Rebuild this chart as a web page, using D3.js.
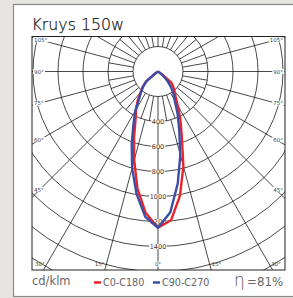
<!DOCTYPE html>
<html><head><meta charset="utf-8">
<script src="https://cdn.jsdelivr.net/npm/d3@7"></script>
<style>
html,body{margin:0;padding:0;background:#e7e5e2;}
svg{display:block;}
</style></head>
<body>
<svg id="c" width="293" height="298"></svg>
<script>
// ---- data ----
const title = "Kruys 150w";
const angles = [0,5,10,15,20,25,30,35,40,45,50,55,60,65,70,75,80,85,90];
const c0   = [1250,1195,1010,785,558,424,318,245,205,173,140,35,0,0,0,0,0,0,0];
const c180 = [1250,1135,950,735,560,425,350,283,216,170,128,30,0,0,0,0,0,0,0];
const c90  = [1250,1130,910,690,497,370,268,214,160,108,55,12,0,0,0,0,0,0,0];
const c270 = [1250,1168,992,800,615,465,362,262,210,165,118,28,0,0,0,0,0,0,0];
const ringValues = [200,400,600,800,1000,1200,1400,1600,1800,2000];
const ringLabels = [400,600,800,1000,1200,1400];
const sideAngleLabels = [105,90,75,60,45];
const bottomAngleLabels = [30,15,0,15,30];
const legend = [{name:"C0-C180", color:"#ea2229"},{name:"C90-C270", color:"#3b4ea3"}];
const unit = "cd/klm";
const efficiency = "=81%";

// ---- layout ----
const svg = d3.select("#c");
const plot = {x0:32, y0:36.5, x1:285, y1:270};
const cx=158, cy=71.5;
const r = d3.scaleLinear().domain([0,2000]).range([0,250]);
const rad = d => d*Math.PI/180;

// panel
svg.append("rect").attr("x",13.5).attr("y",4.5).attr("width",290).attr("height",292)
  .attr("fill","#fff").attr("stroke","#8a8a8a").attr("stroke-width",1.2);

svg.append("text").attr("x",31.5).attr("y",29.5).text(title)
  .attr("font-family","'DejaVu Sans', sans-serif").attr("font-weight",200)
  .attr("font-size",15.8).attr("fill","#1e1e1e").attr("stroke","#1e1e1e").attr("stroke-width",0.25);

const defs = svg.append("defs");
defs.append("clipPath").attr("id","clip").append("rect")
  .attr("x",plot.x0).attr("y",plot.y0).attr("width",plot.x1-plot.x0).attr("height",plot.y1-plot.y0);

const g = svg.append("g").attr("clip-path","url(#clip)");
const grid = g.append("g").attr("stroke","#1a1a1a").attr("stroke-width",0.8).attr("fill","none");

// rings
grid.selectAll("circle.ring").data(ringValues).join("circle")
  .attr("cx",cx).attr("cy",cy).attr("r",d=>r(d));

// spokes: every 10 deg between 200 and 400, every 15 deg beyond 400
const inner = d3.range(0,360,10);
grid.selectAll("line.in").data(inner).join("line")
  .attr("x1",d=>cx+r(200)*Math.sin(rad(d))).attr("y1",d=>cy+r(200)*Math.cos(rad(d)))
  .attr("x2",d=>cx+r(400)*Math.sin(rad(d))).attr("y2",d=>cy+r(400)*Math.cos(rad(d)));
const outer = d3.range(0,360,15);
grid.selectAll("line.out").data(outer).join("line")
  .attr("x1",d=>cx+r(400)*Math.sin(rad(d))).attr("y1",d=>cy+r(400)*Math.cos(rad(d)))
  .attr("x2",d=>cx+r(2400)*Math.sin(rad(d))).attr("y2",d=>cy+r(2400)*Math.cos(rad(d)));

// ring labels on 0 deg axis
const lab = g.append("g").attr("font-family","'DejaVu Sans', sans-serif").attr("font-size",6.5).attr("fill","#333");
ringLabels.forEach(v=>{
  const y = cy + r(v);
  const t = lab.append("text").attr("x",cx).attr("y",y+2.3).attr("text-anchor","middle").text(v);
  const bb = t.node().getBBox();
  lab.insert("rect","text").attr("x",bb.x-0.5).attr("y",y-2.5).attr("width",bb.width+1).attr("height",5).attr("fill","#fff");
});

// side angle labels
const sl = g.append("g").attr("font-family","'DejaVu Sans', sans-serif").attr("font-size",5.5).attr("fill","#444");
sideAngleLabels.forEach(a=>{
  const dx = cx-40;
  const y = cy + dx/Math.tan(rad(a));
  [[34,"start"],[283,"end"]].forEach(([x,anc])=>{
    const t = sl.append("text").attr("x",x).attr("y",y+2).attr("text-anchor",anc).text(a+"°");
    const bb = t.node().getBBox();
    sl.insert("rect","text").attr("x",bb.x-1).attr("y",y-2.5).attr("width",bb.width+2).attr("height",5).attr("fill","#fff");
  });
});
// bottom labels
const by = 264;
bottomAngleLabels.forEach((a,i)=>{
  const sign = i<2?-1:(i>2?1:0);
  const xl = cx + sign*(by-cy)*Math.tan(rad(a));
  let anc="middle", x=xl;
  if(sign<0){anc="end"; x=xl-2;} else if(sign>0){anc="start"; x=xl+2;}
  const t = sl.append("text").attr("x",x).attr("y",by+2).attr("text-anchor",anc).text(a+"°");
  if(sign===0){
    const bb=t.node().getBBox();
    sl.insert("rect","text").attr("x",bb.x-0.5).attr("y",by-2.5).attr("width",bb.width+1).attr("height",5).attr("fill","#fff");
  }
});

// curves
function curvePts(right,left){
  const pts=[];
  for(let i=angles.length-1;i>=0;i--) pts.push([Math.PI+rad(angles[i]), r(left[i])]);
  for(let i=1;i<angles.length;i++) pts.push([Math.PI-rad(angles[i]), r(right[i])]);
  return pts;
}
const radial = d3.lineRadial().angle(d=>d[0]).radius(d=>d[1]).curve(d3.curveLinear);
const cg = g.append("g").attr("transform",`translate(${cx},${cy})`).attr("fill","none")
  .attr("stroke-width",2.4).attr("stroke-linejoin","round");
cg.append("path").attr("d",radial(curvePts(c0,c180))).attr("stroke",legend[0].color);
cg.append("path").attr("d",radial(curvePts(c90,c270))).attr("stroke",legend[1].color);

// plot frame
svg.append("rect").attr("x",plot.x0).attr("y",plot.y0).attr("width",plot.x1-plot.x0).attr("height",plot.y1-plot.y0)
  .attr("fill","none").attr("stroke","#222").attr("stroke-width",1);

// bottom texts
const ft = "'DejaVu Sans', sans-serif";
svg.append("text").attr("x",32).attr("y",285).text(unit).attr("font-family",ft).attr("font-size",11.5).attr("fill","#666");
const lx=[94,153];
legend.forEach((l,i)=>{
  svg.append("line").attr("x1",lx[i]).attr("x2",lx[i]+7).attr("y1",282.5).attr("y2",282.5).attr("stroke",l.color).attr("stroke-width",2.5);
  svg.append("text").attr("x",lx[i]+9).attr("y",285.5).text(l.name).attr("font-family",ft)
    .attr("font-size",9.6).attr("fill","#666");
});
svg.append("text").attr("x",234).attr("y",286).text("η").attr("font-family",ft).attr("font-weight",200).attr("font-size",17).attr("fill","#555");
svg.append("text").attr("x",247).attr("y",285.5).text(efficiency).attr("font-family",ft).attr("font-size",11.8).attr("fill","#666");
</script>
</body></html>
